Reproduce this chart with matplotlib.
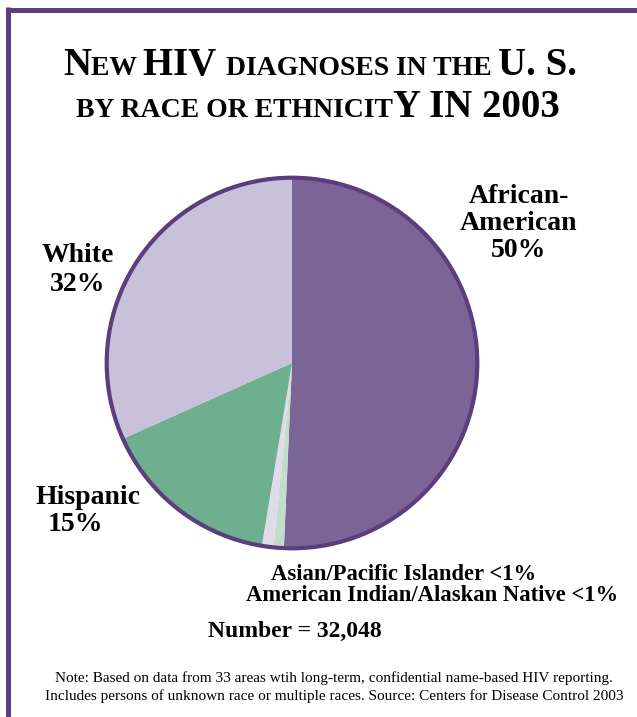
import matplotlib
matplotlib.use("Agg")
import matplotlib.pyplot as plt
from matplotlib.patches import Circle
from matplotlib.lines import Line2D

# data (clockwise from 12 o'clock)
groups = ["African-American", "Asian/Pacific Islander",
          "American Indian/Alaskan Native", "Hispanic", "White"]
shares = [50.7, 0.9, 1.0, 15.7, 31.7]
colors = ["#7b6496", "#c2ddcb", "#e0dbe9", "#6daf8f", "#c9c0da"]

title_line1 = [("N", 1), ("EW ", 0), ("HIV ", 1), ("DIAGNOSES IN THE ", 0), ("U. S.", 1)]
title_line2 = [("BY RACE OR ETHNICIT", 0), ("Y IN 2003", 1)]

W, H = 637, 717
DARK = "#5b3d80"
SERIF = ["Liberation Serif", "DejaVu Serif"]

fig = plt.figure(figsize=(W / 100, H / 100), dpi=100)
fig.patch.set_facecolor("white")


def px(x, y):
    return x / W, 1 - y / H


# frame lines on left and top
fig.add_artist(Line2D([7.5 / W, 7.5 / W], [0, 1 - 7 / H], color=DARK, lw=3.6,
                      transform=fig.transFigure, solid_capstyle="butt"))
fig.add_artist(Line2D([5.7 / W, 1], [1 - 9.5 / H, 1 - 9.5 / H], color=DARK, lw=3.6,
                      transform=fig.transFigure, solid_capstyle="butt"))

# pie
cx, cy, r = 292, 363, 189
ax = fig.add_axes([(cx - r) / W, (H - cy - r) / H, 2 * r / W, 2 * r / H])
ax.pie(shares, colors=colors, startangle=90, counterclock=False,
       wedgeprops=dict(linewidth=0), radius=1)
ax.add_patch(Circle((0, 0), 1, fill=False, edgecolor=DARK, lw=3.0))
ax.set_xlim(-1.02, 1.02)
ax.set_ylim(-1.02, 1.02)
ax.set_aspect("equal")
ax.axis("off")


def small_caps(pieces, center_x, baseline_y, big, small):
    renderer = fig.canvas.get_renderer()
    texts = []
    widths = []
    for s, is_big in pieces:
        t = fig.text(0, 0, s, fontsize=big if is_big else small, family=SERIF,
                     fontweight="bold", va="baseline", ha="left")
        bb = t.get_window_extent(renderer=renderer)
        texts.append(t)
        widths.append(bb.width)
    total = sum(widths)
    x = center_x - total / 2
    for t, w in zip(texts, widths):
        t.set_position(px(x, baseline_y))
        x += w


small_caps(title_line1, 320, 75, 28, 20)
small_caps(title_line2, 318, 117, 28, 20)

lab = dict(family=SERIF, fontweight="bold", ha="center", va="baseline")
fig.text(*px(519, 203), "African-", fontsize=20, **lab)
fig.text(*px(519, 230), "American", fontsize=20, **lab)
fig.text(*px(519, 257), "50%", fontsize=20, **lab)
fig.text(*px(78, 262), "White", fontsize=20, **lab)
fig.text(*px(78, 291), "32%", fontsize=20, **lab)
fig.text(*px(88, 504), "Hispanic", fontsize=20, **lab)
fig.text(*px(76, 531), "15%", fontsize=20, **lab)
fig.text(*px(404, 580), "Asian/Pacific Islander <1%", fontsize=16.3, **lab)
fig.text(*px(432, 601), "American Indian/Alaskan Native <1%", fontsize=16.3, **lab)
fig.text(*px(295, 637), "Number = 32,048", fontsize=17, **lab)

note = dict(family=SERIF, fontsize=11, ha="center", va="baseline")
fig.text(*px(334, 682), "Note: Based on data from 33 areas wtih long-term, confidential "
         "name-based HIV reporting.", **note)
fig.text(*px(334, 700), "Includes persons of unknown race or multiple races. "
         "Source: Centers for Disease Control 2003", **note)

fig.savefig("out.png", dpi=100, facecolor="white")
